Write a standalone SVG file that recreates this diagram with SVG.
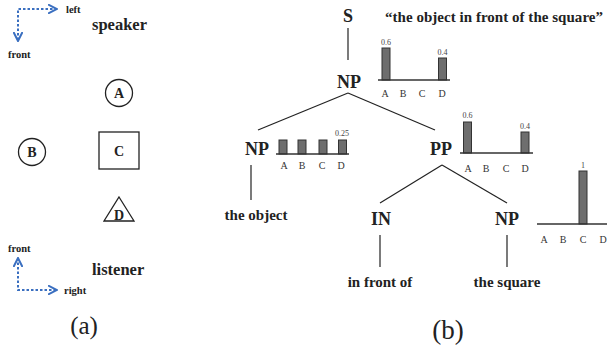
<svg xmlns="http://www.w3.org/2000/svg" width="607" height="347" viewBox="0 0 607 347">
<style>
.bd{font-family:'Liberation Serif','DejaVu Serif',Tinos,'Times New Roman',Times,serif;font-weight:bold;fill:#222}
.rg{font-family:'Liberation Serif','DejaVu Serif',Tinos,'Times New Roman',Times,serif;fill:#222}
.ax{font-family:'Liberation Serif','DejaVu Serif',Tinos,'Times New Roman',Times,serif;fill:#333;font-size:10px;text-anchor:middle}
.val{font-family:'Liberation Serif','DejaVu Serif',Tinos,'Times New Roman',Times,serif;fill:#444;font-size:8px;text-anchor:middle}
.lbl{font-size:18px;text-anchor:middle}
.word{font-size:15px;text-anchor:middle}
.dir{font-size:10.5px}
.arr{fill:none;stroke:#3a6fc0;stroke-width:2;stroke-dasharray:2.5,2}
.ln{stroke:#222;stroke-width:1.2;fill:none}
.axis{stroke:#333;stroke-width:1.5}
.bar{fill:#6e6e6e;stroke:#333;stroke-width:1}
.shp{fill:none;stroke:#222;stroke-width:1.3}
.obj{font-size:14px;text-anchor:middle}
</style>
<defs>
<marker id="chev" viewBox="0 0 10 10" refX="9" refY="5" markerWidth="10" markerHeight="10" markerUnits="userSpaceOnUse" orient="auto-start-reverse">
<path d="M0,0.5 L9,5 L0,9.5" fill="none" stroke="#3a6fc0" stroke-width="2" stroke-dasharray="none"/>
</marker>
</defs>

<!-- (a) -->
<g id="dir-top">
<path class="arr" d="M57,9 H18 V41" marker-start="url(#chev)" marker-end="url(#chev)"/>
<text class="bd dir" x="66" y="13">left</text>
<text class="bd dir" x="8" y="58">front</text>
</g>
<g id="speaker"><text class="bd" font-size="16.5" x="92" y="30">speaker</text></g>
<g id="objA"><circle class="shp" cx="119" cy="93" r="13.5"/><text class="bd obj" x="119" y="98">A</text></g>
<g id="objB"><circle class="shp" cx="32" cy="152" r="13.5"/><text class="bd obj" x="32" y="157">B</text></g>
<g id="objC"><rect class="shp" x="99" y="132" width="40" height="37"/><text class="bd obj" x="119" y="156">C</text></g>
<g id="objD"><path class="shp" d="M119,197 L134,221 L104,221 Z"/><text class="bd obj" x="119" y="220">D</text></g>
<g id="dir-bottom">
<path class="arr" d="M18,258 V290 H57" marker-start="url(#chev)" marker-end="url(#chev)"/>
<text class="bd dir" x="8" y="252">front</text>
<text class="bd dir" x="64" y="294">right</text>
</g>
<g id="listener"><text class="bd" font-size="16.5" x="92" y="275">listener</text></g>
<text class="rg" font-size="25" x="84" y="334" text-anchor="middle">(a)</text>

<!-- (b) -->
<g id="connectors">
<line class="ln" x1="348" y1="28" x2="348" y2="60"/>
<line class="ln" x1="348" y1="93" x2="258" y2="130"/>
<line class="ln" x1="348" y1="93" x2="435" y2="130"/>
<line class="ln" x1="251" y1="165" x2="251" y2="200"/>
<line class="ln" x1="442" y1="165" x2="380" y2="203"/>
<line class="ln" x1="442" y1="165" x2="507" y2="203"/>
<line class="ln" x1="380" y1="235" x2="380" y2="267"/>
<line class="ln" x1="507" y1="235" x2="507" y2="267"/>
</g>

<g id="S"><text class="bd lbl" x="348" y="22">S</text></g>
<g id="quote"><text class="bd" font-size="15" x="385" y="22" textLength="218" lengthAdjust="spacing">“the object in front of the square”</text></g>

<g id="NP-top">
<text class="bd lbl" x="349" y="88">NP</text>
<rect class="bar" x="382" y="48" width="8" height="32"/>
<rect class="bar" x="438.5" y="58" width="8" height="22"/>
<line class="axis" x1="378" y1="80" x2="450" y2="80"/>
<text class="val" x="386" y="45">0.6</text>
<text class="val" x="442.5" y="55">0.4</text>
<text class="ax" x="385" y="97">A</text><text class="ax" x="403" y="97">B</text><text class="ax" x="422" y="97">C</text><text class="ax" x="442" y="97">D</text>
</g>

<g id="NP-left">
<text class="bd lbl" x="257" y="155">NP</text>
<rect class="bar" x="279" y="140" width="8" height="14"/>
<rect class="bar" x="298" y="140" width="8" height="14"/>
<rect class="bar" x="319" y="140" width="8" height="14"/>
<rect class="bar" x="338.5" y="140" width="8" height="14"/>
<line class="axis" x1="276" y1="154" x2="349" y2="154"/>
<text class="val" x="342" y="136">0.25</text>
<text class="ax" x="284" y="169">A</text><text class="ax" x="302" y="169">B</text><text class="ax" x="322" y="169">C</text><text class="ax" x="341" y="169">D</text>
</g>
<g id="the-object"><text class="bd word" x="256" y="220">the object</text></g>

<g id="PP">
<text class="bd lbl" x="441" y="155">PP</text>
<rect class="bar" x="463.5" y="122" width="8" height="31"/>
<rect class="bar" x="521" y="132" width="8" height="21"/>
<line class="axis" x1="460" y1="153" x2="533" y2="153"/>
<text class="val" x="467.5" y="118">0.6</text>
<text class="val" x="525" y="129">0.4</text>
<text class="ax" x="468" y="172">A</text><text class="ax" x="486" y="172">B</text><text class="ax" x="506" y="172">C</text><text class="ax" x="525" y="172">D</text>
</g>

<g id="IN"><text class="bd lbl" x="381" y="225">IN</text></g>
<g id="in-front-of"><text class="bd word" x="380" y="287">in front of</text></g>

<g id="NP-right">
<text class="bd lbl" x="507" y="225">NP</text>
<rect class="bar" x="579" y="171" width="8" height="53"/>
<line class="axis" x1="537" y1="224" x2="607" y2="224"/>
<text class="val" x="583" y="168">1</text>
<text class="ax" x="544" y="243">A</text><text class="ax" x="563" y="243">B</text><text class="ax" x="583" y="243">C</text><text class="ax" x="603" y="243">D</text>
</g>
<g id="the-square"><text class="bd word" x="507" y="287">the square</text></g>

<text class="rg" font-size="27" x="448" y="339" text-anchor="middle">(b)</text>
</svg>
